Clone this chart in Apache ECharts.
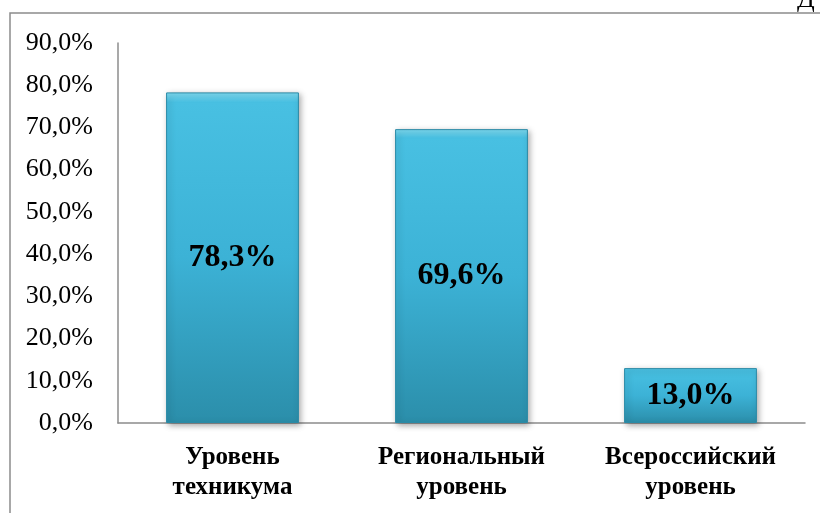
<!DOCTYPE html>
<html><head><meta charset="utf-8">
<script src="https://cdn.jsdelivr.net/npm/echarts@6/dist/echarts.min.js"></script>
<style>html,body{margin:0;padding:0;background:#fff}#c{width:820px;height:513px}</style>
</head><body><div id="c"></div>
<script>
var categories = ['Уровень\nтехникума', 'Региональный\nуровень', 'Всероссийский\nуровень'];
var values = [78.3, 69.6, 13.0];
var yTicks = [0, 10, 20, 30, 40, 50, 60, 70, 80, 90];

var chart = echarts.init(document.getElementById('c'));
var fmt = function (v) { return v.toFixed(1).replace('.', ',') + '%'; };
chart.setOption({
  animation: false,
  backgroundColor: '#fff',
  grid: { left: 118, right: 15, top: 43, bottom: 90 },
  xAxis: {
    type: 'category', data: categories,
    axisLine: { lineStyle: { color: '#8c8c8c', width: 1.5 } },
    axisTick: { show: false },
    axisLabel: { interval: 0, hideOverlap: false, color: '#000', fontFamily: 'Liberation Serif', fontWeight: 'bold', fontSize: 25, lineHeight: 30, margin: 20 }
  },
  yAxis: {
    type: 'value', min: yTicks[0], max: yTicks[yTicks.length - 1], interval: 10,
    axisLine: { show: true, lineStyle: { color: '#8c8c8c', width: 1.5 } },
    axisTick: { show: false },
    splitLine: { show: false },
    axisLabel: { color: '#000', fontFamily: 'Liberation Serif', fontSize: 26, margin: 25, formatter: function (v) { return fmt(v); } }
  },
  graphic: [
    { type: 'rect', shape: { x: 10, y: 13, width: 830, height: 520 }, style: { fill: 'none', stroke: '#8c8c8c', lineWidth: 1.5 }, z: 100 },
    { type: 'text', left: 797, top: -13, style: { text: 'Д', font: '26px "Liberation Serif"', fill: '#000' }, z: 100 }
  ],
  series: [{
    type: 'bar', data: values, barCategoryGap: '42%',
    itemStyle: {
      color: new echarts.graphic.LinearGradient(0, 0, 0, 1, [
        { offset: 0, color: '#7fdcf2' },
        { offset: 0.03, color: '#48c0e2' },
        { offset: 0.5, color: '#3cb2d6' },
        { offset: 1, color: '#2b8eaa' }
      ]),
      borderColor: '#2a8aa6', borderWidth: 1,
      shadowColor: 'rgba(0,0,0,0.35)', shadowBlur: 6, shadowOffsetX: 2, shadowOffsetY: 2
    },
    label: {
      show: true, position: 'inside', color: '#000', fontFamily: 'Liberation Serif', fontWeight: 'bold', fontSize: 32,
      formatter: function (p) { return fmt(p.value); }
    }
  }]
});
</script></body></html>
